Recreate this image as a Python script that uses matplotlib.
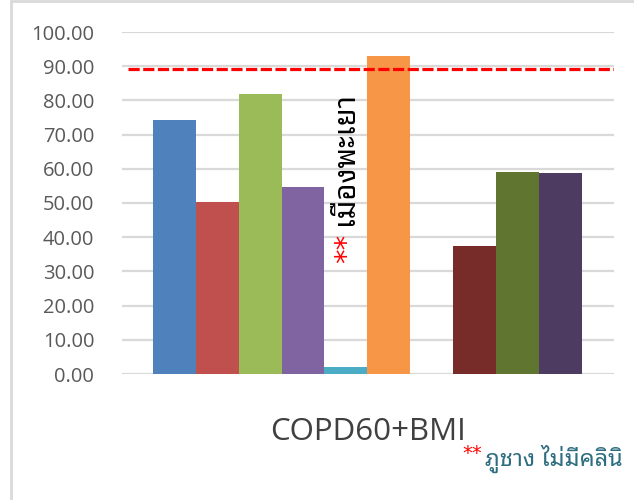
import matplotlib
matplotlib.use("Agg")
import matplotlib.pyplot as plt
import numpy as np

# values (one empty slot for the missing district)
values = [74.3, 50.4, 81.8, 54.6, 2.0, 93.1, 0, 37.4, 59.1, 58.8]
colors = ["#4F81BD", "#C0504D", "#9BBB59", "#8064A2", "#4BACC6", "#F79646",
          "#FFFFFF", "#772C2A", "#5F7530", "#4D3B62"]
target = 89.2
yticks = np.arange(0, 101, 10)
category = "COPD60+BMI"
note_rot = "เมืองพะเยา"
note_bottom = "ภูชาง ไม่มีคลินิ"

thai = ["Noto Sans Thai Looped", "DejaVu Sans"]

fig = plt.figure(figsize=(6.34, 5), dpi=100)
ax = fig.add_axes([122 / 634, 1 - 374 / 500, 492 / 634, 342 / 500])

x = np.arange(len(values))
ax.bar(x, values, width=1.0, color=colors, edgecolor="none", zorder=3)

ax.set_xlim(-1.22, 10.25)
ax.set_ylim(0, 100)
ax.set_yticks(yticks)
ax.set_yticklabels([f"{v:.2f}" for v in yticks], fontsize=14.5, color="#595959",
                   family="Open Sans")
ax.set_xticks([])
ax.tick_params(axis="y", length=0, pad=20)
ax.grid(axis="y", color="#D9D9D9", linewidth=1.6, zorder=0)
for s in ax.spines.values():
    s.set_visible(False)

ax.axhline(target, xmin=0.012, color="#FF0000", linestyle=(0, (3.5, 1.1)),
           linewidth=2.3, zorder=4)

# rotated note beside the tiny bar
ax.text(4.02, 32.5, "**", rotation=90, color="#FF0000", fontsize=21,
        ha="center", va="bottom", family="DejaVu Sans", zorder=5)
ax.text(3.98, 43.5, note_rot, rotation=90, color="#000000", fontsize=21,
        ha="center", va="bottom", family=thai, zorder=5)

fig.text(368 / 634, 1 - 432 / 500, category, fontsize=22.5, color="#404040",
         ha="center", va="center", family="Open Sans")
fig.text(462 / 634, 1 - 453 / 500, "**", fontsize=14, color="#FF0000",
         ha="left", va="center", family="DejaVu Sans")
fig.text(485 / 634, 1 - 459 / 500, note_bottom, fontsize=17, color="#2F6E80",
         ha="left", va="center", family=thai)

# light frame of the chart area
fig.add_artist(plt.Rectangle((11 / 634, -0.1), 1.2, 1.1 - 1.5 / 500,
                             transform=fig.transFigure, fill=False,
                             edgecolor="#D9D9D9", linewidth=2))

fig.savefig("out.png", dpi=100)
